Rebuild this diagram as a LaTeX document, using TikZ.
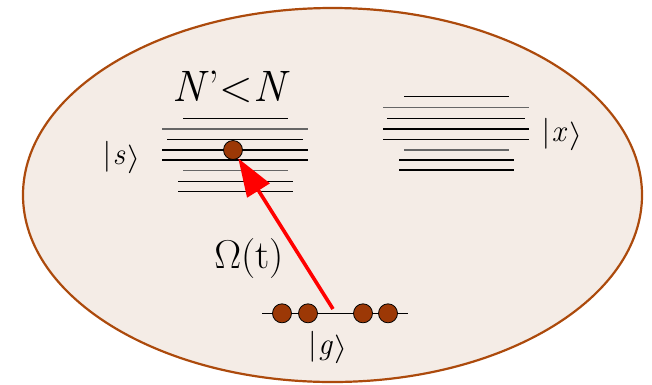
\documentclass[tikz,border=0pt]{standalone}
\usepackage{graphicx}
\usetikzlibrary{arrows.meta}
\definecolor{rim}{RGB}{172,74,12}
\definecolor{bg}{RGB}{244,236,230}
\definecolor{ballc}{RGB}{156,56,6}
\newcommand{\myket}[1]{|\kern1.5pt\textit{#1}\kern2pt\raisebox{-2pt}{\scalebox{1.35}[1.15]{$\rangle$}}}
\tikzset{
  lvl/.style={line width=1.1pt, black},
  lvlg/.style={line width=1.1pt, black!60},
  lvlthick/.style={line width=2.3pt, black},
  atom/.style={circle, draw=black, line width=0.8pt, fill=ballc, minimum size=19pt, inner sep=0pt},
  ket/.style={font=\fontsize{31}{32}\selectfont, inner sep=0pt, anchor=base},
  big/.style={font=\fontsize{44}{46}\selectfont, inner sep=0pt, anchor=base},
  rabi/.style={font=\fontsize{40}{42}\selectfont, inner sep=0pt, anchor=base},
  pump/.style={red, line width=3.6pt, -{Triangle[length=38pt,width=26pt]}}
}
\begin{document}
\begin{tikzpicture}[x=1pt,y=-1pt]
\useasboundingbox (0,0) rectangle (652,384);
% cloud
\draw[rim, fill=bg, line width=2.2pt] (332.5,195) ellipse [x radius=309.5, y radius=187];
% left manifold |s>
\draw[lvl] (183,118.3) -- (288,118.3);
\draw[lvlg] (162,129) -- (308,129);
\draw[lvl] (167,139.3) -- (303,139.3);
\draw[lvlthick] (162,150) -- (308,150);
\draw[lvl] (162,160) -- (308,160);
\draw[lvlg] (183,170.7) -- (288,170.7);
\draw[lvl] (178,181.7) -- (293,181.7);
\draw[lvl] (178,191.7) -- (293,191.7);
% right manifold |x>
\draw[lvl] (404,96.7) -- (509,96.7);
\draw[lvlg] (383,107.3) -- (529,107.3);
\draw[lvl] (387,118.3) -- (525,118.3);
\draw[lvlthick] (383,129) -- (529,129);
\draw[lvl] (383,139.3) -- (529,139.3);
\draw[lvlg] (404,150) -- (509,150);
\draw[lvl] (399,160) -- (514,160);
\draw[lvl] (399,170) -- (514,170);
% ground level
\draw[line width=1.3pt] (262,313.3) -- (408,313.3);
\node[atom] (g1) at (282,313.3) {};
\node[atom] (g2) at (308,313.3) {};
\node[atom] (g3) at (363,313.3) {};
\node[atom] (g4) at (388,313.3) {};
\node[atom] (sball) at (233,150) {};
% labels
\node[big] (nlab) at (231,101.7) {\textit{N}’<\textit{N}};
\node[ket] (slab) at (121.5,164.3) {\myket{s}};
\node[ket] (xlab) at (562,141.7) {\myket{x}};
\node[ket] (glab) at (328,354.7) {\myket{g}};
\node[rabi] (om) at (249,268) {\resizebox{!}{27.5pt}{$\Omega$}(t)};
% excitation
\coordinate (gstart) at (333,309);
\draw[pump] (gstart) -- (sball);
\end{tikzpicture}
\end{document}
